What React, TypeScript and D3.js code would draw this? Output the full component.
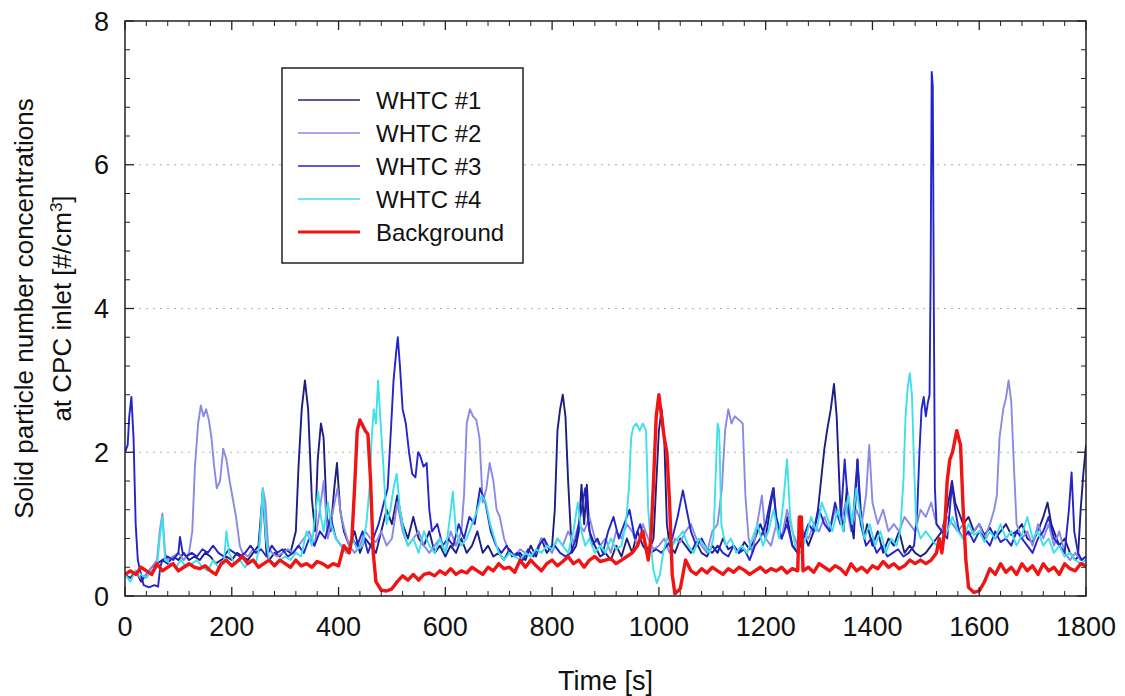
import React from "react";
import * as d3 from "d3";

type P = [number, number];

const xTicks = [0, 200, 400, 600, 800, 1000, 1200, 1400, 1600, 1800];
const yTicks = [0, 2, 4, 6, 8];
const seriesNames = ["WHTC #1", "WHTC #2", "WHTC #3", "WHTC #4", "Background"];
const seriesColors = ["#1e1e82", "#8a8ae6", "#2424cc", "#3ee0ea", "#f01414"];
const seriesWidths = [1.9, 1.9, 1.9, 1.9, 3.4];

const whtc1: P[] = [
  [0,0.3],[10,0.25],[20,0.35],[30,0.2],[40,0.3],[50,0.4],[60,0.45],[70,0.5],[80,0.45],[90,0.55],[100,0.5],[110,0.6],[120,0.5],[130,0.55],[140,0.5],[150,0.6],[160,0.55],[170,0.45],[180,0.5],[190,0.55],[200,0.5],[210,0.6],[220,0.55],[230,0.5],[240,0.6],[250,0.7],[258,1.45],[265,0.6],[270,0.5],[280,0.6],[290,0.55],[300,0.65],[310,0.6],[320,0.9],[325,1.8],[331,2.6],[337,3.0],[343,2.6],[350,1.35],[356,0.9],[361,1.9],[367,2.4],[372,2.2],[378,1.1],[385,0.9],[392,1.5],[397,1.85],[403,1.2],[410,0.9],[420,0.7],[430,0.9],[440,0.6],[450,0.8],[460,0.7],[470,0.6],[480,0.9],[490,1.2],[500,1.0],[510,1.4],[520,1.0],[530,0.8],[540,1.1],[550,0.8],[560,0.7],[570,0.9],[580,0.6],[590,0.7],[600,0.55],[610,0.7],[620,0.6],[630,0.8],[640,0.6],[650,0.7],[660,0.9],[670,0.6],[680,0.7],[690,0.55],[700,0.6],[710,0.5],[720,0.65],[730,0.55],[740,0.6],[750,0.5],[760,0.7],[770,0.55],[780,0.8],[790,0.6],[800,0.7],[805,1.2],[810,2.3],[815,2.6],[820,2.8],[825,2.5],[830,1.6],[837,0.6],[845,0.7],[850,0.9],[855,1.55],[860,1.0],[865,1.55],[870,0.9],[880,0.7],[890,0.55],[900,0.6],[910,0.5],[920,0.7],[930,0.55],[940,0.8],[950,0.6],[960,0.9],[970,0.7],[980,0.6],[990,0.8],[1000,2.3],[1005,2.6],[1010,2.2],[1015,1.0],[1020,0.7],[1030,0.6],[1040,0.8],[1050,0.7],[1060,0.6],[1070,0.75],[1080,0.6],[1090,0.55],[1100,0.7],[1110,0.6],[1120,0.8],[1130,0.65],[1140,0.7],[1150,0.6],[1160,0.75],[1170,0.65],[1180,0.8],[1190,1.0],[1200,0.8],[1210,1.3],[1215,1.5],[1220,1.0],[1230,0.8],[1240,1.1],[1250,0.7],[1260,0.6],[1270,0.9],[1280,0.7],[1290,0.9],[1298,1.2],[1305,1.7],[1310,2.05],[1315,2.3],[1322,2.6],[1328,2.95],[1333,2.5],[1340,1.2],[1346,0.9],[1352,1.5],[1358,1.1],[1365,0.8],[1372,1.9],[1378,1.2],[1385,0.8],[1390,1.0],[1400,0.7],[1410,0.9],[1420,0.6],[1430,0.8],[1440,0.7],[1450,0.9],[1460,0.6],[1470,0.7],[1480,0.6],[1490,0.55],[1500,0.6],[1510,0.7],[1520,0.8],[1530,0.9],[1540,1.2],[1549,1.6],[1555,1.3],[1560,1.2],[1570,1.0],[1580,1.1],[1590,0.9],[1600,1.0],[1610,0.85],[1620,0.95],[1630,0.8],[1640,0.9],[1650,1.0],[1660,0.85],[1670,0.9],[1680,1.0],[1690,0.8],[1700,0.75],[1710,0.9],[1720,1.1],[1728,1.3],[1735,1.0],[1740,0.9],[1750,0.7],[1760,0.8],[1770,0.6],[1780,0.5],[1785,0.55],[1790,1.2],[1795,1.7],[1800,2.1],
];

const whtc2: P[] = [
  [0,0.3],[10,0.35],[20,0.3],[30,0.25],[40,0.3],[50,0.4],[60,0.5],[65,0.9],[70,1.15],[75,0.6],[80,0.5],[90,0.55],[100,0.6],[110,0.5],[120,0.6],[126,0.9],[131,1.8],[137,2.4],[142,2.65],[147,2.5],[152,2.6],[157,2.45],[162,2.2],[167,1.8],[172,1.5],[178,1.6],[184,2.05],[190,1.9],[196,1.6],[202,1.35],[208,1.1],[215,0.7],[220,0.6],[230,0.55],[240,0.65],[250,0.6],[255,1.0],[258,1.5],[263,1.3],[268,0.7],[275,0.6],[285,0.55],[295,0.6],[305,0.65],[315,0.6],[325,0.7],[335,0.8],[345,0.9],[355,0.7],[365,1.2],[372,1.6],[380,0.8],[390,1.2],[398,1.5],[405,1.1],[412,0.9],[420,0.7],[430,0.6],[440,0.7],[450,0.9],[460,0.8],[470,0.75],[480,0.9],[490,0.7],[500,0.8],[510,1.3],[520,0.9],[530,0.7],[540,0.8],[550,0.9],[560,0.7],[570,0.6],[580,0.7],[590,0.8],[600,0.6],[610,0.9],[620,0.7],[630,0.9],[635,1.4],[640,2.4],[646,2.6],[652,2.5],[658,2.45],[664,2.2],[670,1.3],[677,1.5],[683,1.85],[690,1.6],[696,1.2],[702,1.1],[710,0.8],[720,0.6],[730,0.55],[740,0.65],[750,0.6],[760,0.55],[770,0.6],[780,0.8],[790,0.7],[800,0.6],[810,0.8],[820,0.7],[830,0.9],[840,0.75],[850,1.0],[860,0.9],[870,1.1],[880,0.8],[890,0.7],[900,0.8],[910,0.6],[920,0.9],[930,0.8],[940,1.0],[950,0.9],[960,0.7],[970,1.0],[980,0.8],[990,0.65],[1000,0.7],[1010,0.8],[1020,0.6],[1030,0.8],[1040,0.75],[1050,0.9],[1060,1.0],[1070,0.8],[1080,0.7],[1090,0.6],[1100,0.9],[1110,1.0],[1118,1.5],[1124,2.3],[1130,2.6],[1136,2.4],[1142,2.5],[1150,2.45],[1157,2.4],[1162,1.4],[1168,0.8],[1175,0.6],[1182,0.9],[1193,1.4],[1200,0.8],[1210,0.7],[1220,1.0],[1230,0.8],[1240,1.2],[1250,0.9],[1260,0.7],[1270,0.9],[1280,0.8],[1290,1.0],[1300,0.9],[1310,1.1],[1320,0.9],[1330,1.2],[1340,1.0],[1350,1.3],[1360,0.9],[1370,1.2],[1380,1.0],[1388,1.4],[1394,2.1],[1400,1.3],[1410,1.0],[1420,1.2],[1430,0.9],[1440,1.0],[1450,0.9],[1460,1.1],[1470,1.0],[1480,0.9],[1490,1.2],[1500,1.1],[1510,1.3],[1520,1.0],[1530,0.9],[1540,1.1],[1550,1.0],[1560,0.9],[1570,1.0],[1580,0.85],[1590,0.9],[1600,1.0],[1610,0.8],[1620,1.0],[1628,1.2],[1633,1.4],[1638,2.2],[1645,2.6],[1650,2.75],[1655,3.0],[1660,2.7],[1665,1.8],[1670,1.0],[1680,0.8],[1690,0.9],[1700,0.7],[1710,1.0],[1720,0.8],[1730,1.0],[1740,0.7],[1750,0.9],[1760,0.6],[1770,0.5],[1780,0.6],[1790,0.5],[1800,0.55],
];

const whtc3: P[] = [
  [0,2.0],[5,2.1],[8,2.5],[12,2.77],[16,2.2],[20,1.0],[24,0.5],[30,0.3],[35,0.15],[45,0.12],[55,0.15],[62,0.13],[66,0.4],[70,0.5],[80,0.55],[90,0.5],[100,0.6],[103,0.82],[108,0.6],[115,0.55],[125,0.6],[135,0.55],[145,0.65],[155,0.6],[165,0.7],[175,0.6],[185,0.55],[195,0.65],[205,0.6],[215,0.55],[225,0.6],[235,0.7],[245,0.6],[255,0.65],[265,0.55],[275,0.7],[285,0.6],[295,0.65],[305,0.55],[315,0.6],[325,0.7],[335,0.6],[345,0.8],[355,0.7],[365,0.9],[375,0.8],[385,1.1],[395,0.8],[405,0.7],[415,0.6],[425,0.8],[435,0.7],[445,0.9],[455,0.6],[465,0.8],[475,1.0],[485,1.3],[492,1.5],[498,2.3],[503,3.0],[508,3.4],[511,3.6],[515,3.2],[520,2.6],[526,2.4],[532,2.0],[538,1.7],[544,1.65],[549,2.0],[553,1.95],[559,1.8],[565,1.85],[570,1.2],[575,0.9],[585,1.0],[595,0.7],[605,0.8],[615,0.7],[625,1.0],[635,0.8],[645,1.1],[655,1.0],[665,1.5],[675,1.3],[685,0.9],[695,0.7],[705,0.6],[715,0.7],[725,0.55],[735,0.6],[745,0.5],[755,0.65],[765,0.55],[775,0.7],[785,0.8],[795,0.65],[805,0.7],[815,0.6],[825,0.55],[835,0.6],[845,0.8],[855,1.2],[862,1.5],[868,1.0],[875,0.7],[885,0.8],[895,0.6],[905,0.9],[915,1.1],[925,0.8],[935,1.0],[945,1.2],[955,0.8],[965,1.0],[975,0.7],[985,0.6],[995,0.65],[1005,0.6],[1015,0.7],[1025,0.8],[1035,1.1],[1045,1.47],[1052,1.2],[1060,0.9],[1070,0.7],[1080,0.8],[1090,0.65],[1100,0.6],[1110,0.7],[1120,0.6],[1130,0.55],[1140,0.7],[1150,0.6],[1160,0.65],[1170,0.5],[1180,0.7],[1190,0.8],[1200,1.0],[1208,1.3],[1214,1.5],[1220,1.1],[1230,0.8],[1240,1.0],[1250,0.7],[1260,0.6],[1270,0.8],[1280,1.0],[1290,0.9],[1300,1.2],[1310,1.0],[1320,0.9],[1330,1.3],[1340,1.0],[1348,1.9],[1355,1.2],[1362,0.9],[1372,1.9],[1378,1.0],[1388,0.7],[1398,0.8],[1408,0.6],[1418,0.7],[1428,0.55],[1438,0.6],[1448,0.65],[1458,0.55],[1468,0.6],[1478,0.7],[1484,1.2],[1488,2.0],[1492,2.6],[1496,2.77],[1500,2.5],[1504,2.7],[1507,2.8],[1509,4.5],[1511,7.29],[1513,7.1],[1515,4.0],[1517,1.5],[1520,1.0],[1530,0.9],[1540,0.8],[1549,1.55],[1555,1.2],[1562,0.9],[1570,0.8],[1580,0.9],[1590,0.75],[1600,0.9],[1610,0.8],[1620,0.7],[1630,0.9],[1640,0.75],[1650,0.8],[1660,0.7],[1670,0.9],[1680,0.8],[1690,0.7],[1700,0.6],[1710,0.8],[1720,0.9],[1730,1.1],[1740,0.8],[1750,0.7],[1760,0.6],[1768,1.2],[1773,1.72],[1778,0.9],[1785,0.6],[1792,0.5],[1800,0.55],
];

const whtc4: P[] = [
  [0,0.3],[10,0.2],[20,0.35],[30,0.3],[40,0.25],[50,0.35],[60,0.4],[65,0.8],[70,1.1],[75,0.5],[85,0.45],[95,0.4],[105,0.5],[115,0.4],[125,0.45],[135,0.5],[145,0.4],[155,0.35],[165,0.5],[175,0.4],[185,0.45],[190,0.9],[195,0.6],[205,0.45],[215,0.5],[225,0.4],[235,0.5],[245,0.45],[252,0.7],[258,1.5],[264,0.8],[270,0.5],[280,0.45],[290,0.5],[300,0.55],[310,0.5],[320,0.6],[330,0.55],[340,0.9],[350,0.7],[357,1.2],[362,1.45],[367,1.1],[372,0.9],[380,1.3],[386,1.0],[395,0.8],[405,0.7],[415,0.6],[425,0.8],[435,0.65],[445,0.7],[452,1.0],[458,1.5],[462,2.2],[466,2.6],[470,2.4],[474,3.0],[478,2.5],[484,1.8],[490,1.0],[497,1.2],[503,1.5],[509,1.7],[515,1.2],[522,0.9],[530,0.7],[540,0.8],[550,0.6],[560,0.9],[570,0.7],[580,0.6],[590,0.8],[600,0.6],[607,1.0],[614,1.45],[620,0.9],[630,0.7],[640,0.8],[650,1.0],[660,1.2],[668,1.4],[676,1.3],[684,1.0],[692,0.8],[700,0.6],[710,0.5],[720,0.6],[730,0.55],[740,0.5],[750,0.6],[760,0.55],[770,0.65],[780,0.6],[790,0.7],[800,0.65],[810,0.8],[820,0.7],[830,0.6],[840,0.9],[848,1.3],[855,0.9],[862,0.7],[870,0.8],[880,0.6],[890,0.7],[900,0.6],[910,0.8],[920,0.65],[930,0.7],[938,1.0],[944,1.5],[948,2.2],[952,2.35],[958,2.4],[964,2.3],[970,2.4],[976,2.3],[980,1.2],[985,0.7],[990,0.35],[996,0.18],[1002,0.3],[1008,0.6],[1015,0.8],[1025,0.7],[1035,0.8],[1045,0.9],[1055,0.7],[1065,0.6],[1075,0.8],[1085,0.7],[1095,0.6],[1102,0.8],[1106,1.6],[1110,2.4],[1113,2.3],[1117,1.0],[1125,0.7],[1135,0.8],[1145,0.6],[1155,0.7],[1165,0.6],[1175,0.8],[1185,1.0],[1195,0.7],[1205,0.9],[1215,1.2],[1225,0.8],[1233,1.3],[1240,1.9],[1246,1.1],[1255,0.7],[1265,0.6],[1275,0.8],[1285,1.1],[1295,0.9],[1305,1.3],[1315,1.1],[1325,0.9],[1335,1.2],[1345,0.9],[1355,1.4],[1362,1.0],[1370,1.5],[1378,1.1],[1385,0.8],[1395,1.0],[1405,0.7],[1415,0.9],[1425,0.6],[1435,0.8],[1445,0.7],[1452,0.9],[1458,1.6],[1462,2.5],[1466,2.9],[1470,3.1],[1474,2.8],[1478,1.8],[1482,1.0],[1490,0.8],[1500,0.9],[1510,0.8],[1520,0.7],[1530,0.8],[1540,0.9],[1550,1.1],[1560,0.9],[1570,0.8],[1580,1.0],[1590,0.85],[1600,0.9],[1610,0.75],[1620,0.9],[1630,0.8],[1640,1.0],[1650,0.8],[1660,0.9],[1670,0.7],[1680,0.85],[1690,1.1],[1700,0.8],[1710,0.9],[1720,0.7],[1730,0.8],[1740,0.6],[1750,0.7],[1760,0.55],[1770,0.6],[1780,0.5],[1790,0.45],[1800,0.5],
];

const background: P[] = [
  [0,0.3],[10,0.35],[20,0.3],[30,0.4],[40,0.35],[50,0.3],[60,0.45],[70,0.35],[80,0.4],[90,0.45],[100,0.35],[110,0.4],[120,0.45],[130,0.4],[140,0.38],[150,0.42],[160,0.35],[170,0.3],[180,0.45],[190,0.5],[200,0.42],[210,0.48],[220,0.55],[230,0.45],[240,0.5],[250,0.4],[260,0.45],[270,0.5],[280,0.42],[290,0.5],[300,0.45],[310,0.4],[320,0.5],[330,0.42],[340,0.45],[350,0.4],[360,0.48],[370,0.45],[380,0.4],[390,0.45],[400,0.42],[410,0.7],[420,0.6],[425,0.8],[430,1.5],[435,2.3],[440,2.45],[450,2.3],[455,2.25],[460,1.6],[465,0.6],[470,0.2],[480,0.08],[490,0.07],[500,0.1],[510,0.2],[520,0.28],[530,0.22],[540,0.3],[550,0.22],[560,0.3],[570,0.32],[580,0.28],[590,0.35],[600,0.3],[610,0.38],[620,0.3],[630,0.35],[640,0.32],[650,0.4],[660,0.35],[670,0.3],[680,0.4],[690,0.35],[700,0.45],[710,0.38],[720,0.4],[730,0.33],[740,0.5],[750,0.4],[760,0.5],[770,0.42],[780,0.35],[790,0.45],[800,0.5],[810,0.42],[820,0.48],[830,0.55],[840,0.45],[850,0.5],[860,0.4],[870,0.5],[880,0.55],[890,0.48],[900,0.5],[910,0.52],[920,0.45],[930,0.5],[940,0.55],[950,0.6],[960,0.7],[970,0.9],[975,0.7],[980,0.5],[985,0.8],[990,1.6],[995,2.5],[1000,2.8],[1005,2.5],[1010,2.2],[1015,2.0],[1020,1.3],[1025,0.3],[1030,0.03],[1040,0.1],[1045,0.3],[1050,0.5],[1060,0.35],[1070,0.3],[1080,0.38],[1090,0.32],[1100,0.4],[1110,0.35],[1120,0.3],[1130,0.38],[1140,0.33],[1150,0.4],[1160,0.36],[1170,0.3],[1180,0.35],[1190,0.4],[1200,0.33],[1210,0.38],[1220,0.35],[1230,0.4],[1240,0.32],[1250,0.38],[1260,0.35],[1263,1.1],[1267,1.1],[1270,0.35],[1280,0.4],[1290,0.33],[1300,0.45],[1310,0.4],[1320,0.35],[1330,0.42],[1340,0.38],[1350,0.3],[1360,0.45],[1370,0.35],[1380,0.4],[1390,0.33],[1400,0.42],[1410,0.38],[1420,0.48],[1430,0.4],[1440,0.45],[1450,0.38],[1460,0.42],[1470,0.5],[1480,0.45],[1490,0.5],[1500,0.45],[1510,0.5],[1520,0.6],[1525,0.8],[1530,0.6],[1535,0.9],[1540,1.6],[1545,1.9],[1550,2.0],[1558,2.3],[1565,2.1],[1570,1.2],[1575,0.5],[1580,0.12],[1590,0.05],[1600,0.07],[1610,0.2],[1620,0.38],[1630,0.3],[1640,0.45],[1650,0.33],[1660,0.4],[1670,0.3],[1680,0.45],[1690,0.35],[1700,0.42],[1710,0.3],[1720,0.45],[1730,0.35],[1740,0.4],[1750,0.3],[1760,0.45],[1770,0.38],[1780,0.35],[1790,0.45],[1800,0.42],
];

const allSeries = [whtc1, whtc2, whtc3, whtc4, background];

const W = 1125;
const H = 696;
const left = 125;
const right = 1086;
const top = 21;
const bottom = 596;

export default function App() {
  const x = d3.scaleLinear().domain([0, 1800]).range([left, right]);
  const y = d3.scaleLinear().domain([0, 8]).range([bottom, top]);
  const line = d3
    .line<P>()
    .x((d) => x(d[0]))
    .y((d) => y(d[1]));

  const xMinor = d3.range(0, 1800 + 1, 40).filter((v) => v % 200 !== 0);
  const yMinor = d3.range(0, 8.001, 0.4).filter((v) => Math.abs(v / 2 - Math.round(v / 2)) > 0.01);
  const font = "Arial, 'Liberation Sans', Helvetica, sans-serif";

  const legX = 282;
  const legY = 68;
  const rowY = (i: number) => 100 + i * 33;

  return (
    <svg
      width={W}
      height={H}
      style={{ position: "absolute", left: 0, top: 0, background: "#fff" }}
      fontFamily={font}
    >
      <rect x={0} y={0} width={W} height={H} fill="#fff" />
      <defs>
        <clipPath id="clip">
          <rect x={left} y={top} width={right - left} height={bottom - top} />
        </clipPath>
      </defs>
      {[2, 4, 6].map((v) => (
        <line key={"g" + v} x1={left} x2={right} y1={y(v)} y2={y(v)} stroke="#b0b0b0" strokeWidth={1.2} strokeDasharray="2,5" />
      ))}
      <g clipPath="url(#clip)">
        {allSeries.map((s, i) => (
          <path key={i} d={line(s) || ""} fill="none" stroke={seriesColors[i]} strokeWidth={seriesWidths[i]} strokeLinejoin="round" />
        ))}
      </g>
      <rect x={left} y={top} width={right - left} height={bottom - top} fill="none" stroke="#222" strokeWidth={1.5} />
      {xTicks.map((t) => (
        <g key={"xt" + t}>
          <line x1={x(t)} x2={x(t)} y1={bottom} y2={bottom - 9} stroke="#222" strokeWidth={1.3} />
          <line x1={x(t)} x2={x(t)} y1={top} y2={top + 9} stroke="#222" strokeWidth={1.3} />
          <text x={x(t)} y={636} textAnchor="middle" fontSize={27} fill="#111">
            {t}
          </text>
        </g>
      ))}
      {xMinor.map((t) => (
        <g key={"xm" + t}>
          <line x1={x(t)} x2={x(t)} y1={bottom} y2={bottom - 5} stroke="#222" strokeWidth={1} />
          <line x1={x(t)} x2={x(t)} y1={top} y2={top + 5} stroke="#222" strokeWidth={1} />
        </g>
      ))}
      {yTicks.map((t) => (
        <g key={"yt" + t}>
          <line x1={left} x2={left + 9} y1={y(t)} y2={y(t)} stroke="#222" strokeWidth={1.3} />
          <line x1={right} x2={right - 9} y1={y(t)} y2={y(t)} stroke="#222" strokeWidth={1.3} />
          <text x={109} y={y(t)} dy="0.36em" textAnchor="end" fontSize={27} fill="#111">
            {t}
          </text>
        </g>
      ))}
      {yMinor.map((t) => (
        <g key={"ym" + t}>
          <line x1={left} x2={left + 5} y1={y(t)} y2={y(t)} stroke="#222" strokeWidth={1} />
          <line x1={right} x2={right - 5} y1={y(t)} y2={y(t)} stroke="#222" strokeWidth={1} />
        </g>
      ))}
      <text x={(left + right) / 2} y={690} textAnchor="middle" fontSize={27} fill="#111">
        Time [s]
      </text>
      <g transform={`translate(33, ${(top + bottom) / 2}) rotate(-90)`}>
        <text x={0} y={0} textAnchor="middle" fontSize={26} fill="#111">
          Solid particle number concentrations
        </text>
        <text x={0} y={38} textAnchor="middle" fontSize={26} fill="#111">
          at CPC inlet [#/cm<tspan baselineShift="super" fontSize={17}>3</tspan>]
        </text>
      </g>
      <rect x={legX} y={legY} width={241} height={195} fill="#fff" stroke="#222" strokeWidth={1.5} />
      {seriesNames.map((n, i) => (
        <g key={"lg" + i}>
          <line x1={298} x2={360} y1={rowY(i)} y2={rowY(i)} stroke={seriesColors[i]} strokeWidth={seriesWidths[i] * 0.9} />
          <text x={376} y={rowY(i)} dy="0.36em" fontSize={24} fill="#111">
            {n}
          </text>
        </g>
      ))}
    </svg>
  );
}
